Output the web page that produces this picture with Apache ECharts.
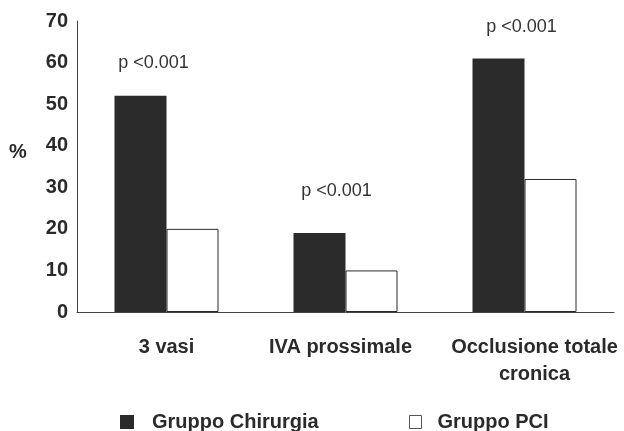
<!DOCTYPE html>
<html>
<head>
<meta charset="utf-8">
<script src="https://cdn.jsdelivr.net/npm/echarts@6/dist/echarts.min.js"></script>
<style>
html,body{margin:0;padding:0;background:#fff;}
#c{width:624px;height:431px;}
</style>
</head>
<body>
<div id="c"></div>
<script>
const categories = ['3 vasi', 'IVA prossimale', 'Occlusione totale\ncronica'];
const chirurgia = [52, 19, 61];
const pci = [20, 10, 32];
const pLabels = ['p <0.001', 'p <0.001', 'p <0.001'];
const pLabelY = [60, 29, 68.5];
const yTicks = [0, 10, 20, 30, 40, 50, 60, 70];

const FONT = 'Liberation Sans, Arial, sans-serif';
const labelShift = [13, 17, 23];
const catPad = [[0,0,0,0],[0,10,0,0],[0,0,0,20]];

const chart = echarts.init(document.getElementById('c'), null, {renderer: 'canvas'});
chart.setOption({
  animation: false,
  backgroundColor: '#ffffff',
  title: {
    text: '%', left: 9, top: 142, padding: 0,
    textStyle: {color: '#2a2a2a', fontFamily: FONT, fontWeight: 'bold', fontSize: 20}
  },
  grid: {left: 77, right: 10, top: 21, bottom: 119, containLabel: false},
  xAxis: {
    type: 'category',
    data: categories.map((c, i) => ({value: c, textStyle: {padding: catPad[i]}})),
    axisLine: {lineStyle: {color: '#444', width: 1}},
    axisTick: {show: false},
    axisLabel: {
      margin: 22, color: '#2a2a2a', fontFamily: FONT, fontWeight: 'bold',
      fontSize: 20, lineHeight: 27, interval: 0
    }
  },
  yAxis: {
    type: 'value', min: yTicks[0], max: yTicks[yTicks.length - 1], interval: 10,
    axisLine: {show: true, lineStyle: {color: '#444', width: 1}},
    axisTick: {show: false},
    splitLine: {show: false},
    axisLabel: {margin: 9, color: '#2a2a2a', fontFamily: FONT, fontWeight: 'bold', fontSize: 20}
  },
  legend: [{
    data: ['Gruppo Chirurgia'],
    left: 120, top: 412, padding: 0, itemWidth: 14, itemHeight: 14, itemGap: 0,
    icon: 'rect',
    textStyle: {color: '#2a2a2a', fontFamily: FONT, fontWeight: 'bold', fontSize: 20, padding: [0, 0, 0, 13]}
  }, {
    data: ['Gruppo PCI'],
    left: 409, top: 412, padding: 0, itemWidth: 12, itemHeight: 13, itemGap: 0,
    icon: 'rect',
    itemStyle: {borderColor: '#555', borderWidth: 1, color: '#fff'},
    textStyle: {color: '#2a2a2a', fontFamily: FONT, fontWeight: 'bold', fontSize: 20, padding: [0, 0, 0, 11]}
  }],
  series: [{
    name: 'Gruppo Chirurgia', type: 'bar', data: chirurgia,
    barWidth: 52, barGap: '0%',
    itemStyle: {color: '#2b2b2b', borderColor: '#2b2b2b', borderWidth: 0},
    markPoint: {
      symbol: 'circle', symbolSize: 0,
      label: {show: true, color: '#333', fontFamily: FONT, fontSize: 18, position: 'inside'},
      data: pLabels.map((t, i) => ({
        coord: [i, pLabelY[i]], value: t,
        label: {formatter: t, offset: [labelShift[i], 0]}
      }))
    }
  }, {
    name: 'Gruppo PCI', type: 'bar', data: pci,
    barWidth: 52,
    itemStyle: {color: '#ffffff', borderColor: '#2b2b2b', borderWidth: 1}
  }]
});
</script>
</body>
</html>
